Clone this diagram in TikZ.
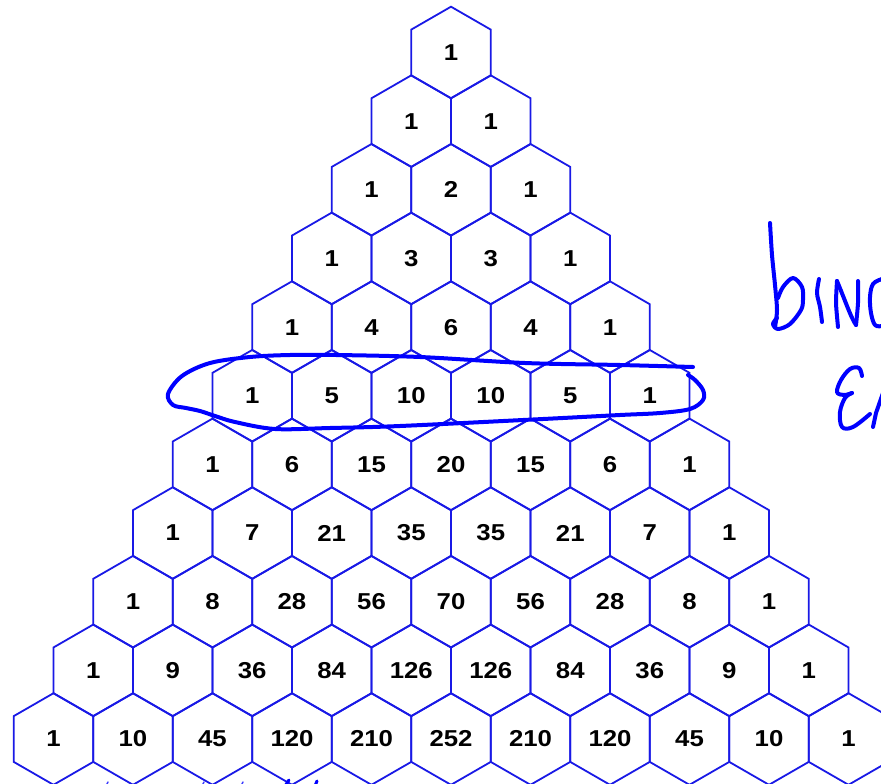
\documentclass[tikz,border=0pt]{standalone}
\usepackage{fontspec}
\newfontfamily\numfont[FakeStretch=1.12]{Liberation Sans Bold}
\begin{document}
\begin{tikzpicture}[x=1pt,y=-1pt,
  hexline/.style={draw={rgb,255:red,25;green,25;blue,230},line width=1.8pt,line join=miter},
  num/.style={inner sep=0pt,outer sep=0pt,font=\numfont\fontsize{23}{23}\selectfont,text=black},
  pen/.style={draw={rgb,255:red,0;green,0;blue,255},line width=4pt,line cap=round,line join=round},
  penthin/.style={draw={rgb,255:red,60;green,60;blue,255},line width=1.5pt,line cap=round}]
\useasboundingbox (0,0) rectangle (881,784);
\fill[white] (0,0) rectangle (881,784);
\begin{scope}
\clip (0,0) rectangle (881,784);
\foreach \vals [count=\r from 0] in {{1},{1,1},{1,2,1},{1,3,3,1},{1,4,6,4,1},{1,5,10,10,5,1},{1,6,15,20,15,6,1},{1,7,21,35,35,21,7,1},{1,8,28,56,70,56,28,8,1},{1,9,36,84,126,126,84,36,9,1},{1,10,45,120,210,252,210,120,45,10,1}}{
  \foreach \v [count=\k from 0] in \vals {
    \pgfmathsetmacro\cx{451+(\k-\r/2)*79.5}
    \pgfmathsetmacro\cy{52.5+\r*68.65}
    \draw[hexline] (\cx,\cy) ++(0,-45.8) -- ++(39.75,22.9) -- ++(0,45.8) -- ++(-39.75,22.9) -- ++(-39.75,-22.9) -- ++(0,-45.8) -- cycle;
    \node[num] (c-\r-\k) at (\cx,\cy) {\v};
  }
}
% hand-drawn loop around row 5
\draw[pen] plot[smooth,tension=0.55] coordinates {(693,367) (620,365) (525,363) (420,357) (336,355) (290,355) (250,357) (210,363) (182,376) (168,394) (173,405) (186,408) (200,411) (215,416) (235,422) (275,429) (330,428) (400,426) (543,419) (620,415) (660,413) (690,409) (703,400) (703,390) (695,380) (688,375)};
% "binc" (cut off)
\draw[pen] plot[smooth,tension=0.5] coordinates {(770,223) (772,255) (775,285) (777,310) (775,327)};
\draw[pen] plot[smooth,tension=0.55] coordinates {(778,298) (783,287) (793,278) (802,287) (803,300) (801,310) (790,324) (778,329) (773,324) (777,318)};
\draw[pen] plot[smooth,tension=0.5] coordinates {(819,279) (817,293) (820,307) (822,322)};
\draw[pen] plot[smooth,tension=0.4] coordinates {(838,327) (836,303) (837,281)};
\draw[pen] (837,281) .. controls (845,300) and (851,318) .. (856,325);
\draw[pen] plot[smooth,tension=0.4] coordinates {(856,325) (858,303) (858,281)};
\draw[pen] plot[smooth,tension=0.6] coordinates {(882,279) (873,284) (870,297) (871,313) (875,325) (882,326)};
% "Ex" (cut off)
\draw[pen] plot[smooth,tension=0.6] coordinates {(862,376) (859,368) (850,369) (841,380) (837,392) (844,395) (852,393)};
\draw[pen] plot[smooth,tension=0.6] coordinates {(852,393) (845,398) (840,412) (842,427) (853,427) (870,414)};
\draw[pen] (873,427) -- (876,413) -- (883,393);
% tiny fragments at bottom edge
\draw[pen,line width=3pt] (285,786) -- (289,780);
\draw[pen,line width=3pt] (315,786) -- (317,781);
\draw[penthin] (106,786) -- (108,782);
\draw[penthin] (202,786) -- (204,782);
\draw[penthin] (241,786) -- (243,782);
\end{scope}
\end{tikzpicture}
\end{document}
